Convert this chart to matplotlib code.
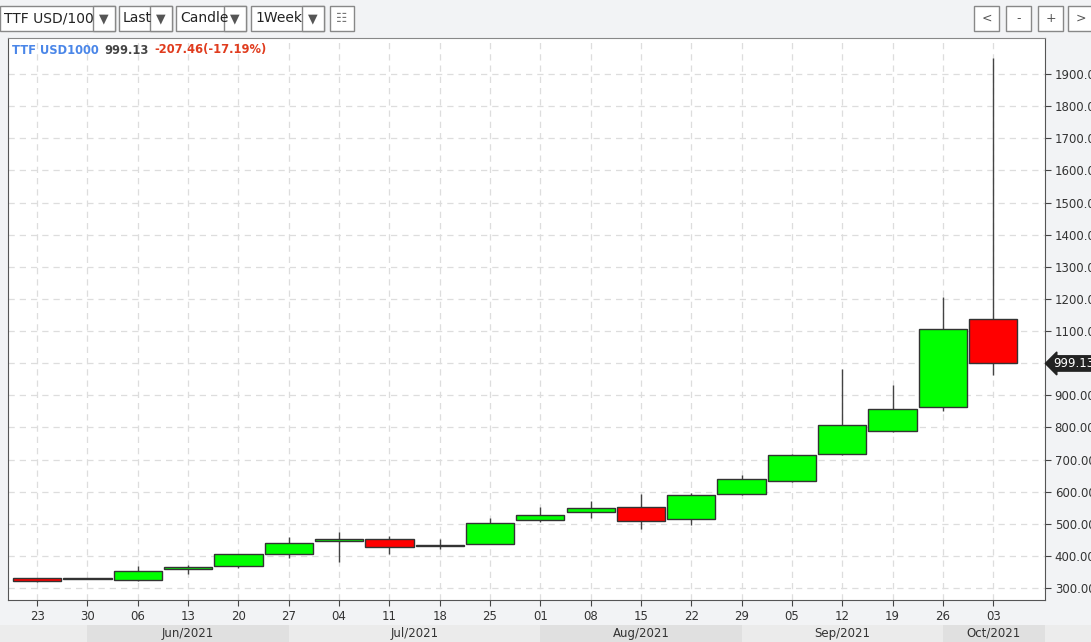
import matplotlib
matplotlib.use("Agg")
import matplotlib.pyplot as plt
from matplotlib.patches import Rectangle

days = ["23","30","06","13","20","27","04","11","18","25","01","08","15","22","29","05","12","19","26","03"]
opens  = [330,329,324,358,369,407,446,452,431,437,512,537,552,515,593,632,717,788,863,1139]
closes = [322,329,352,366,405,441,452,428,435,502,527,549,508,590,640,714,807,856,1106,999.13]
highs  = [333,331,368,372,406,460,474,462,452,518,552,571,593,595,652,716,981,932,1205,1950]
lows   = [319,327,322,343,362,395,381,406,421,437,505,518,484,496,590,630,715,786,851,962]
months = ["Jun/2021","Jul/2021","Aug/2021","Sep/2021","Oct/2021"]
month_bounds = [(1,5),(5,10),(10,14),(14,18),(18,20.03)]
yticks = [300,400,500,600,700,800,900,1000,1100,1200,1300,1400,1500,1600,1700,1800,1900]

W,H = 1091,642
fig = plt.figure(figsize=(W/100,H/100), dpi=100, facecolor="#f2f3f5")
def fx(p): return p/W
def fy(p): return 1-p/H
ax = fig.add_axes([fx(8), fy(600), fx(1045-8), (600-38)/H])
ax.set_facecolor("white")
x0, x1 = -0.58, 20.03
ax.set_xlim(x0, x1)
ax.set_ylim(263, 2012)
ax.set_yticks([v for v in yticks if v != 1000])
ax.set_yticks([1000], minor=True)
ax.yaxis.tick_right()
ax.set_yticklabels([f"{v:.2f}" for v in yticks if v != 1000], fontsize=8.5, color="#333333")
ax.set_xticks(range(len(days)))
ax.set_xticklabels(days, fontsize=8.5, color="#333333")
ax.tick_params(axis="both", length=4, color="#444444", pad=3)
ax.tick_params(axis="y", which="minor", length=4, labelright=False)
ax.grid(True, which="both", color="#dddddd", linestyle=(0,(5,4)), linewidth=0.9)
ax.set_axisbelow(True)
for s in ax.spines.values():
    s.set_color("#555555")
ax.spines["top"].set_color("#888888")

bw = 0.96
for i in range(len(days)):
    o,c,h,l = opens[i],closes[i],highs[i],lows[i]
    ax.vlines(i, l, h, color="#444444", linewidth=1, zorder=2)
    col = "#00ff00" if c >= o else "#ff0000"
    lo, hi = min(o,c), max(o,c)
    ax.add_patch(Rectangle((i-bw/2, lo), bw, max(hi-lo, 2), facecolor=col,
                           edgecolor="#333333", linewidth=1, zorder=3))

ax.annotate(f"{closes[-1]:.2f}", xy=(1.0, closes[-1]), xycoords=("axes fraction","data"),
            xytext=(6,0), textcoords="offset points", va="center", ha="left",
            fontsize=8.5, color="white",
            bbox=dict(boxstyle="larrow,pad=0.1", fc="#222222", ec="#222222"), annotation_clip=False)

band_y0, band_h = fy(642), (642-625)/H
fig.patches.append(Rectangle((0, band_y0), 1, band_h, transform=fig.transFigure,
                             facecolor="#ececec", edgecolor="none"))
def xpix(v): return 8 + (v-x0)/(x1-x0)*(1045-8)
for k,(a,b) in enumerate(month_bounds):
    pa, pb = xpix(a), xpix(b)
    col = "#e0e0e0" if k % 2 == 0 else "#ebebeb"
    fig.patches.append(Rectangle((fx(pa), band_y0), fx(pb-pa), band_h, transform=fig.transFigure,
                                 facecolor=col, edgecolor="none"))
    fig.text(fx((pa+pb)/2), fy(633.5), months[k], ha="center", va="center", fontsize=8.5, color="#333333")

fig.text(fx(12), fy(50), "TTF USD1000", color="#4a86e8", fontsize=8.3, fontweight="bold", va="center")
fig.text(fx(104), fy(50), "999.13", color="#444444", fontsize=8.3, fontweight="bold", va="center")
fig.text(fx(154), fy(50), "-207.46(-17.19%)", color="#e03c1e", fontsize=8.3, fontweight="bold", va="center")

def box(x, w, text=None, arrow=True):
    fig.patches.append(Rectangle((fx(x), fy(31)), fx(w), (31-6)/H, transform=fig.transFigure,
                                 facecolor="white", edgecolor="#888888", linewidth=1))
    if text:
        fig.text(fx(x+4), fy(18.5), text, fontsize=10, color="#222222", va="center")
    if arrow:
        fig.patches.append(Rectangle((fx(x+w-22), fy(31)), fx(22), (31-6)/H, transform=fig.transFigure,
                                     facecolor="white", edgecolor="#888888", linewidth=1))
        fig.text(fx(x+w-11), fy(18.5), "▼", fontsize=9, color="#555555", ha="center", va="center")
box(0, 115, "TTF USD/100")
box(119, 53, "Last")
box(176, 70, "Candle")
box(251, 73, "1Week")
box(330, 24, None, arrow=False)
fig.text(fx(342), fy(18.5), "☷", fontsize=9, color="#777777", ha="center", va="center")
for xb, t in [(974,"<"),(1006,"-"),(1038,"+"),(1068,">")]:
    fig.patches.append(Rectangle((fx(xb), fy(31)), fx(25), (31-6)/H, transform=fig.transFigure,
                                 facecolor="white", edgecolor="#888888", linewidth=1))
    fig.text(fx(xb+12.5), fy(18.5), t, fontsize=9, color="#555555", ha="center", va="center")

fig.savefig("out.png", dpi=100, facecolor=fig.get_facecolor())
